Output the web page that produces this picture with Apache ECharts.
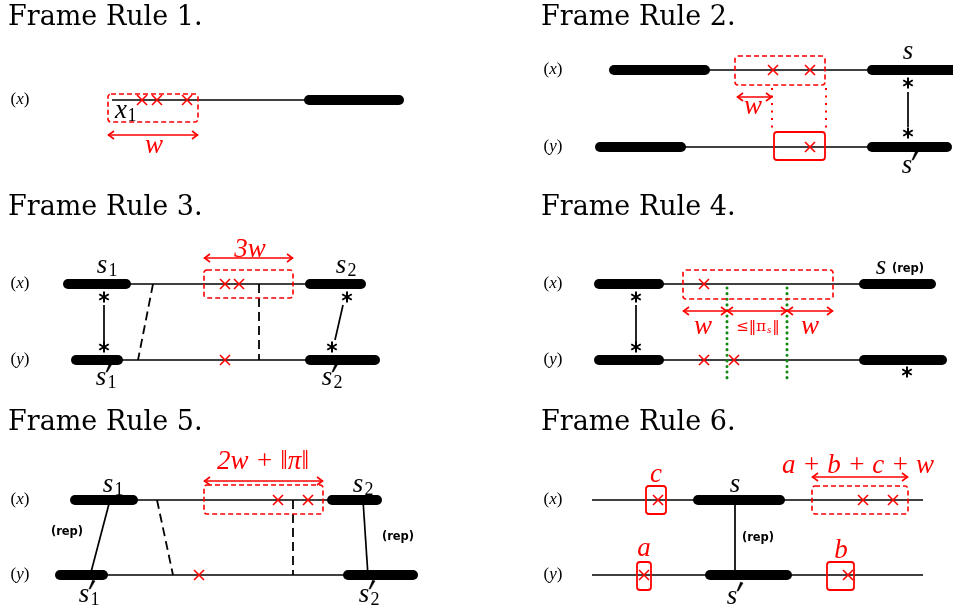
<!DOCTYPE html>
<html>
<head>
<meta charset="utf-8">
<script src="https://cdn.jsdelivr.net/npm/echarts@6/dist/echarts.min.js"></script>
<style>
  html, body { margin: 0; padding: 0; background: #fff; }
  #chart { width: 953px; height: 612px; }
</style>
</head>
<body>
<div id="chart"></div>
<script>
// panel titles [x, y, text]
var titles = [
  [8, 18, 'Frame Rule 1.'], [541, 18, 'Frame Rule 2.'],
  [8, 208, 'Frame Rule 3.'], [541, 208, 'Frame Rule 4.'],
  [8, 423, 'Frame Rule 5.'], [541, 423, 'Frame Rule 6.']
];
// (x) / (y) row labels [x, y, var]
var rowLabels = [
  [20, 100, 'x'], [553, 70, 'x'], [553, 147, 'y'],
  [20, 284, 'x'], [20, 360, 'y'], [553, 284, 'x'], [553, 360, 'y'],
  [20, 500, 'x'], [20, 575, 'y'], [553, 500, 'x'], [553, 575, 'y']
];
// thin black segments [x1, y1, x2, y2]
var thinLines = [
  [112, 100, 306, 100],
  [705, 70, 870, 70], [680, 147, 870, 147], [908, 92, 908, 127],
  [125, 284, 310, 284], [118, 360, 310, 360], [104, 305, 104, 342], [343, 305, 335, 340],
  [660, 284, 862, 284], [660, 360, 862, 360], [636, 305, 636, 343],
  [135, 500, 330, 500], [105, 575, 345, 575], [110, 500, 90, 576], [363, 500, 368, 576],
  [592, 500, 923, 500], [592, 575, 923, 575], [735, 500, 735, 575]
];
// dashed black segments
var dashedLines = [
  [153, 284, 138, 360], [259, 284, 259, 360],
  [157, 500, 173, 575], [293, 500, 293, 575]
];
// thick segments [x1, x2, y]
var thickBars = [
  [304, 404, 100],
  [609, 710, 70], [867, 962, 70], [595, 686, 147], [867, 952, 147],
  [63, 131, 284], [305, 366, 284], [71, 123, 360], [305, 380, 360],
  [594, 664, 284], [859, 936, 284], [594, 664, 360], [859, 947, 360],
  [70, 138, 500], [327, 382, 500], [55, 108, 575], [343, 418, 575],
  [693, 785, 500], [705, 792, 575]
];
// red boxes [x1, y1, x2, y2]
var dashedBoxes = [
  [108, 94, 198, 122], [735, 56, 825, 85], [204, 270, 293, 298],
  [683, 270, 833, 299], [204, 485, 323, 514], [812, 486, 908, 514]
];
var solidBoxes = [
  [774, 132, 825, 160], [646, 486, 666, 514], [637, 562, 651, 590], [827, 562, 854, 590]
];
// red crosses [x, y]
var crosses = [
  [142, 100], [157, 100], [187, 100],
  [773, 70], [810, 70], [810, 147],
  [225, 284], [239, 284], [225, 360],
  [704, 284], [704, 360], [734, 360],
  [278, 500], [308, 500], [199, 575],
  [658, 500], [863, 500], [893, 500], [644, 575], [848, 575]
];
// red double arrows [x1, x2, y]
var arrows = [
  [108, 198, 135], [737, 772, 97], [204, 293, 258],
  [683, 727, 311], [727, 787, 311], [787, 833, 311],
  [204, 323, 481], [812, 908, 477]
];
var redDotted = [[772, 88, 772, 132], [826, 88, 826, 132]];
var greenDotted = [[727, 288, 727, 382], [787, 288, 787, 382]];
// black asterisks [x, y]
var stars = [
  [908, 83], [908, 133],
  [104, 297], [104, 347], [347, 297], [332, 347],
  [636, 297], [636, 347], [907, 372]
];
// black math labels [x, y, base, subscript, prime]
var mathLabels = [
  [121, 111, 'x', '1', 0],
  [908, 52, 's', '', 0], [907, 166, 's', '', 1],
  [102, 266, 's', '1', 0], [341, 266, 's', '2', 0], [101, 378, 's', '1', 1], [327, 378, 's', '2', 1],
  [881, 267, 's', '', 0],
  [108, 485, 's', '1', 0], [358, 485, 's', '2', 0], [84, 595, 's', '1', 1], [364, 595, 's', '2', 1],
  [735, 485, 's', '', 0], [732, 597, 's', '', 1]
];
var repLabels = [[67, 532], [398, 537], [758, 538], [908, 269]];
// red labels [x, y, text]
var redLabels = [
  [154, 146, 'w'], [753, 107, 'w'], [250, 250, '3w'], [703, 327, 'w'], [810, 327, 'w'],
  [263, 462, '2w + ‖π‖'], [858, 466, 'a + b + c + w'], [656, 475, 'c'], [644, 549, 'a'], [841, 551, 'b']
];
var normLabels = [[758, 327, '≤‖π', 's', '‖']];

var RED = '#ff0000';
var MATH = 'Liberation Serif';

function pt(api, i, j) {
  return api.coord([api.value(i), api.value(j)]);
}
function segRender(style) {
  return function (params, api) {
    var a = pt(api, 0, 1), b = pt(api, 2, 3);
    return { type: 'line', shape: { x1: a[0], y1: a[1], x2: b[0], y2: b[1] }, style: style };
  };
}
function boxRender(style) {
  return function (params, api) {
    var a = pt(api, 0, 1), b = pt(api, 2, 3);
    return { type: 'rect', shape: { x: a[0], y: a[1], width: b[0] - a[0], height: b[1] - a[1], r: 3 }, style: style };
  };
}
function custom(data, render) {
  return { type: 'custom', data: data, renderItem: render, silent: true, animation: false };
}

var series = [
  custom(thinLines, segRender({ stroke: '#000', lineWidth: 1.7 })),
  custom(dashedLines, segRender({ stroke: '#000', lineWidth: 1.8, lineDash: [9, 5] })),
  custom(redDotted, segRender({ stroke: RED, lineWidth: 2, lineDash: [2, 5.5] })),
  custom(greenDotted, segRender({ stroke: '#118811', lineWidth: 3, lineDash: [0.1, 5.5], lineCap: 'round' })),
  custom(thickBars, function (params, api) {
    var a = api.coord([api.value(0), api.value(2)]), b = api.coord([api.value(1), api.value(2)]);
    return { type: 'rect', shape: { x: a[0], y: a[1] - 5, width: b[0] - a[0], height: 10, r: 5 }, style: { fill: '#000' } };
  }),
  custom(dashedBoxes, boxRender({ fill: 'none', stroke: RED, lineWidth: 1.6, lineDash: [5, 3] })),
  custom(solidBoxes, boxRender({ fill: 'none', stroke: RED, lineWidth: 1.8 })),
  custom(crosses, function (params, api) {
    var p = pt(api, 0, 1), h = 5, st = { stroke: RED, lineWidth: 1.6 };
    return { type: 'group', children: [
      { type: 'line', shape: { x1: p[0] - h, y1: p[1] - h, x2: p[0] + h, y2: p[1] + h }, style: st },
      { type: 'line', shape: { x1: p[0] - h, y1: p[1] + h, x2: p[0] + h, y2: p[1] - h }, style: st }
    ] };
  }),
  custom(arrows, function (params, api) {
    var a = api.coord([api.value(0), api.value(2)]), b = api.coord([api.value(1), api.value(2)]);
    var st = { stroke: RED, lineWidth: 1.6, fill: 'none' };
    return { type: 'group', children: [
      { type: 'line', shape: { x1: a[0], y1: a[1], x2: b[0], y2: b[1] }, style: st },
      { type: 'polyline', shape: { points: [[a[0] + 6, a[1] - 4], [a[0] + 0.5, a[1]], [a[0] + 6, a[1] + 4]] }, style: st },
      { type: 'polyline', shape: { points: [[b[0] - 6, b[1] - 4], [b[0] - 0.5, b[1]], [b[0] - 6, b[1] + 4]] }, style: st }
    ] };
  }),
  custom(stars, function (params, api) {
    var p = pt(api, 0, 1), r = 5.5, st = { stroke: '#000', lineWidth: 2 }, kids = [];
    [90, 30, 150].forEach(function (deg) {
      var dx = r * Math.cos(deg * Math.PI / 180), dy = r * Math.sin(deg * Math.PI / 180);
      kids.push({ type: 'line', shape: { x1: p[0] - dx, y1: p[1] - dy, x2: p[0] + dx, y2: p[1] + dy }, style: st });
    });
    return { type: 'group', children: kids };
  }),
  custom(titles, function (params, api) {
    var p = pt(api, 0, 1);
    return { type: 'text', x: p[0], y: p[1], style: {
      text: titles[params.dataIndex][2], font: '27px "DejaVu Serif"', fill: '#000', align: 'left', verticalAlign: 'middle' } };
  }),
  custom(rowLabels, function (params, api) {
    var p = pt(api, 0, 1);
    return { type: 'text', x: p[0], y: p[1], style: {
      text: '{n|(}{i|' + rowLabels[params.dataIndex][2] + '}{n|)}', align: 'center', verticalAlign: 'middle',
      rich: {
        n: { font: '17px "' + MATH + '"', fill: '#000' },
        i: { font: 'italic 17px "' + MATH + '"', fill: '#000' }
      } } };
  }),
  custom(mathLabels, function (params, api) {
    var p = pt(api, 0, 1), d = mathLabels[params.dataIndex], kids = [];
    kids.push({ type: 'text', x: p[0], y: p[1], style: {
      text: d[2], font: 'italic 27px "' + MATH + '"', fill: '#000', align: 'center', verticalAlign: 'middle' } });
    if (d[3]) kids.push({ type: 'text', x: p[0] + 11, y: p[1] + 5, style: {
      text: d[3], font: '18px "' + MATH + '"', fill: '#000', align: 'center', verticalAlign: 'middle' } });
    if (d[4]) kids.push({ type: 'polygon', shape: { points: [
      [p[0] + 5, p[1] - 6], [p[0] + 6.3, p[1] - 6], [p[0] + 11, p[1] - 14], [p[0] + 8.6, p[1] - 15] ] },
      style: { fill: '#000', stroke: '#000', lineWidth: 0.5 } });
    return { type: 'group', children: kids };
  }),
  custom(repLabels, function (params, api) {
    var p = pt(api, 0, 1);
    return { type: 'text', x: p[0], y: p[1], style: {
      text: '(rep)', font: 'bold 11.5px "DejaVu Sans"', fill: '#000', align: 'center', verticalAlign: 'middle' } };
  }),
  custom(redLabels, function (params, api) {
    var p = pt(api, 0, 1);
    return { type: 'text', x: p[0], y: p[1], style: {
      text: redLabels[params.dataIndex][2], font: 'italic 27px "' + MATH + '"', fill: RED, align: 'center', verticalAlign: 'middle' } };
  }),
  custom(normLabels, function (params, api) {
    var p = pt(api, 0, 1), d = normLabels[params.dataIndex];
    return { type: 'text', x: p[0], y: p[1], style: {
      text: '{n|' + d[2] + '}{s|' + d[3] + '}{n|' + d[4] + '}', align: 'center', verticalAlign: 'middle',
      rich: {
        n: { font: '15px "DejaVu Serif"', fill: RED },
        s: { font: 'italic 11px "' + MATH + '"', fill: RED, verticalAlign: 'bottom', padding: [6, 1, 0, 1] }
      } } };
  })
];

var chart = echarts.init(document.getElementById('chart'));
chart.setOption({
  animation: false,
  grid: { left: 0, right: 0, top: 0, bottom: 0 },
  xAxis: { type: 'value', min: 0, max: 953, show: false },
  yAxis: { type: 'value', min: 0, max: 612, inverse: true, show: false },
  series: series
});
</script>
</body>
</html>
